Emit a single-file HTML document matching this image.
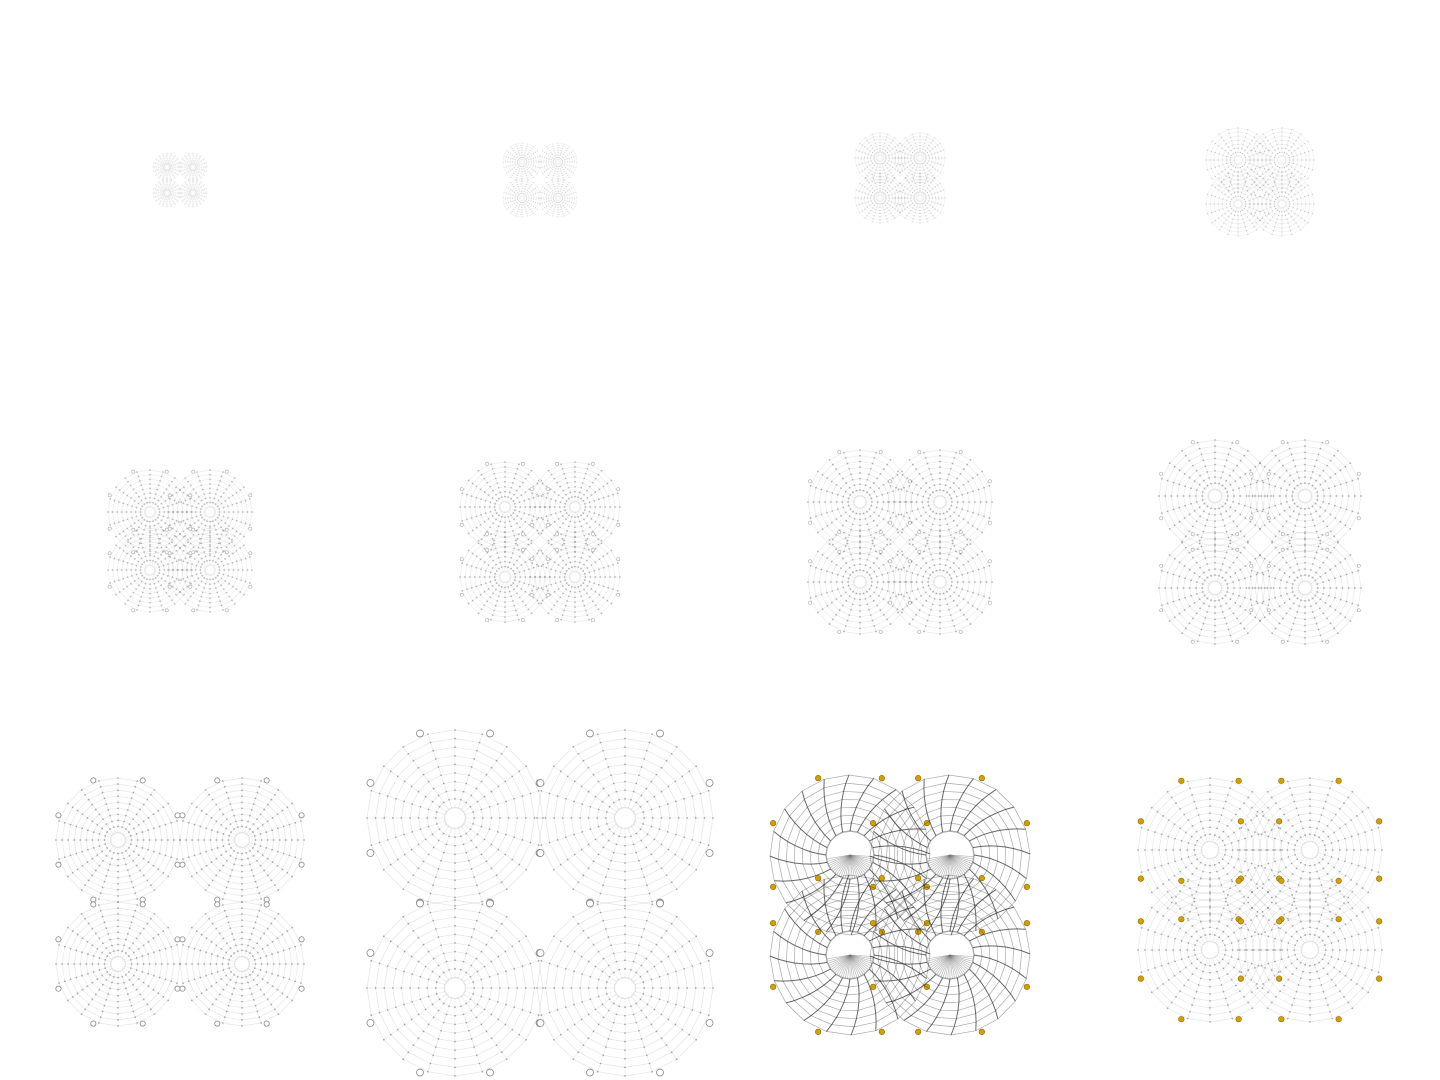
<!DOCTYPE html>
<html><head><meta charset="utf-8"><style>
html,body{margin:0;padding:0;background:#fff;width:1440px;height:1080px;overflow:hidden;font-family:"Liberation Sans",sans-serif}
svg{position:absolute;left:0;top:0}
</style></head><body>
<svg id="chart" width="1440" height="1080"></svg>
<script>
// panel data: center of group, half-spacing between clusters, web radius, line darkness, anchor style
const panelCx = [180,540,900,1260,180,540,900,1260,180,540,900,1260];
const panelCy = [180,180,178,182,541,542,542,542,902,903,905,900];
const halfGapX = [13,18,20,22,30,35,40,45,62,85,50,50];
const halfGapY = [13,18,20,22,29,35,40,46,62,85,50,50];
const webRadius = [14,19,25,32,42,45,52,56,62,88,80,72];
const lineOpacity = [0.12,0.15,0.22,0.25,0.3,0.32,0.35,0.38,0.4,0.42,0.85,0.4];
const anchorKind = ['none','none','none','none','faint','faint','faint','faint','grey','grey','gold','gold'];
const ringCount = [8,8,8,8,9,9,9,9,10,10,8,10];
const spokeCount = 20;

const svg = document.getElementById('chart');
const NS = 'http://www.w3.org/2000/svg';
function mk(tag, attrs, parent){const e=document.createElementNS(NS,tag);for(const k in attrs)e.setAttribute(k,attrs[k]);parent.appendChild(e);return e;}

panelCx.forEach((pcx,i)=>{
  const g = mk('g',{},svg);
  
  
  const R = webRadius[i], op = lineOpacity[i], nr = ringCount[i];
  const dark = i===10;
  const centers = [[-1,-1],[1,-1],[-1,1],[1,1]];
  centers.forEach((c,ci)=>{
    const cx = pcx + c[0]*halfGapX[i], cy = panelCy[i] + c[1]*halfGapY[i];
    const cg = mk('g',{},g);
    
    
    const r0 = R*(dark?0.3:0.12);
    const twist = dark ? 0.3 : 0;
    const pt=(k,j)=>{const rr=r0+(R-r0)*j/(nr-1);const a=2*Math.PI*k/spokeCount+twist*(j/(nr-1));return [cx+rr*Math.cos(a),cy+rr*Math.sin(a)];};
    const stroke = dark ? '#222' : '#999';
    for(let j=0;j<nr;j++){
      let d='';
      for(let k=0;k<=spokeCount;k++){const p=pt(k%spokeCount,j);d+=(k?'L':'M')+p[0].toFixed(1)+' '+p[1].toFixed(1);}
      const ring = mk('path',{d:d,fill:'none',stroke:stroke,'stroke-opacity':op*(dark?0.45:0.6),'stroke-width':j===0?1.4:0.7},cg);
      
      
    }
    for(let k=0;k<spokeCount;k++){
      let d='';
      for(let j=0;j<nr;j++){const p=pt(k,j);d+=(j?'L':'M')+p[0].toFixed(1)+' '+p[1].toFixed(1);}
      const sp = mk('path',{d:d,fill:'none',stroke:stroke,'stroke-opacity':op*(dark?0.8:0.5),'stroke-width':dark?1:0.7},cg);
      
      
      if(!dark){
        for(let j=1;j<nr;j++){const p=pt(k,j);
          const dot=mk('circle',{cx:p[0],cy:p[1],r:R>40?0.9:0.6,fill:'#666','fill-opacity':op*1.2},cg);
          
          }
      }
    }
    if(dark){
      for(let k=0;k<30;k++){const a=Math.PI/2+(k-15)*0.1;
        const l=mk('line',{x1:cx,y1:cy,x2:cx+r0*Math.cos(a),y2:cy+r0*Math.sin(a),stroke:'#777','stroke-opacity':0.5,'stroke-width':0.7},cg);
        
        }
    }
    if(anchorKind[i]!=='none'){
      for(let k=0;k<8;k++){const a=Math.PI/8+k*Math.PI/4 - Math.PI/2;const ar=R*1.04;
        const ax=cx+ar*Math.cos(a), ay=cy+ar*Math.sin(a);
        let an;
        if(anchorKind[i]==='gold') an=mk('circle',{cx:ax,cy:ay,r:2.8,fill:'#d4a000',stroke:'#8a6a00','stroke-width':0.6},cg);
        else if(anchorKind[i]==='faint') an=mk('circle',{cx:ax,cy:ay,r:1.6,fill:'#fff',stroke:'#aaa','stroke-width':0.6},cg);
        else an=mk('circle',{cx:ax,cy:ay,r:R>80?3.5:2.6,fill:'#fff',stroke:'#888','stroke-width':0.8},cg);
        
        
      }
    }
  });
});
</script>
</body></html>
